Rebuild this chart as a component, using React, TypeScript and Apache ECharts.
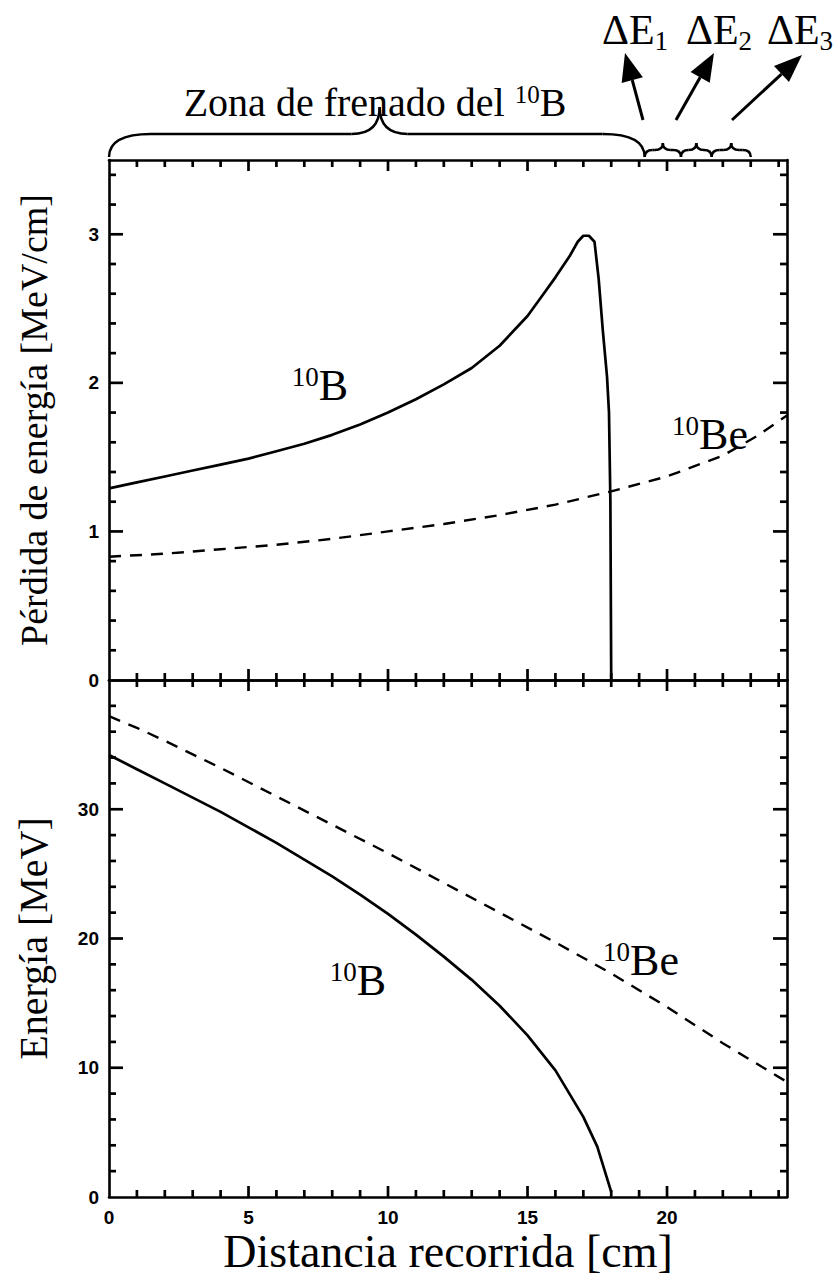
import React, { useEffect, useRef } from "react";
import * as echarts from "echarts";

// ---- data ----
const distanceTicks = [0, 5, 10, 15, 20];
const lossTicks = [0, 1, 2, 3];
const energyTicks = [0, 10, 20, 30];

// tick steps drawn along the frame (major every 5th)
const distanceMinorStep = 1; // cm
const lossMinorStep = 0.2; // MeV/cm
const energyMinorStep = 2; // MeV

// Energy loss of 10B [MeV/cm] vs distance [cm]
const b10LossX = [0, 1, 2, 3, 4, 5, 6, 7, 8, 9, 10, 11, 12, 13, 14, 15, 15.5, 16, 16.5, 16.8, 17.0, 17.2, 17.4, 17.55, 17.7, 17.85, 17.92, 17.97, 18.0];
const b10LossY = [1.29, 1.33, 1.37, 1.41, 1.45, 1.49, 1.54, 1.59, 1.65, 1.72, 1.8, 1.89, 1.99, 2.1, 2.25, 2.45, 2.58, 2.71, 2.85, 2.95, 2.99, 2.99, 2.95, 2.7, 2.35, 2.04, 1.8, 1.2, 0];

// Energy loss of 10Be [MeV/cm]
const be10LossX = [0, 2, 4, 6, 8, 10, 12, 14, 16, 18, 20, 22, 23.2, 24.3];
const be10LossY = [0.83, 0.85, 0.88, 0.91, 0.95, 1.0, 1.05, 1.11, 1.18, 1.27, 1.37, 1.51, 1.64, 1.78];

// Energy of 10B [MeV]
const b10EnergyX = [0, 1, 2, 3, 4, 5, 6, 7, 8, 9, 10, 11, 12, 13, 14, 15, 16, 17, 17.5, 18];
const b10EnergyY = [34.2, 33.1, 32.0, 30.9, 29.8, 28.6, 27.4, 26.1, 24.8, 23.4, 21.9, 20.3, 18.6, 16.8, 14.8, 12.5, 9.8, 6.2, 3.9, 0.4];

// Energy of 10Be [MeV]
const be10EnergyX = [0, 1, 2, 4, 6, 8, 10, 12, 14, 16, 18, 20, 22, 24.3];
const be10EnergyY = [37.2, 36.3, 35.3, 33.2, 31.0, 28.8, 26.6, 24.3, 22.0, 19.7, 17.3, 14.7, 11.9, 8.9];

// Annotation ranges along the distance axis [cm]
const stoppingZone = [0, 19.2];
const stoppingZoneTip = 9.7;
const deltaRanges = [
  [19.2, 20.5],
  [20.5, 21.6],
  [21.6, 23.0],
];
const deltaLabels = ["1", "2", "3"];

const X_MAX = 24.3;
const LOSS_MAX = 3.5;
const ENERGY_MAX = 40;

const serif = "'Liberation Serif', 'Times New Roman', serif";
const sans = "'Liberation Sans', Arial, sans-serif";

const zip = (xs: number[], ys: number[]) => xs.map((x, i) => [x, ys[i]]);
const black = { color: "#000", width: 2.6 };

function xAxisCfg(gridIndex: number, position: string, labels: boolean, name?: string) {
  return {
    type: "value",
    gridIndex,
    position,
    min: 0,
    max: X_MAX,
    interval: 5,
    name: name || "",
    nameLocation: "middle",
    nameGap: 34,
    nameTextStyle: { fontFamily: serif, fontSize: 46, lineHeight: 40, color: "#000" },
    axisLine: { show: true, onZero: false, lineStyle: black },
    axisTick: { show: false },
    splitLine: { show: false },
    axisLabel: {
      show: labels,
      margin: 11,
      lineHeight: 19,
      fontFamily: sans,
      fontWeight: "bold",
      fontSize: 19,
      color: "#000",
      formatter: (v: number) => (distanceTicks.includes(v) ? String(v) : ""),
    },
  };
}

function yAxisCfg(
  gridIndex: number,
  position: string,
  max: number,
  interval: number,
  ticks: number[],
  labels: boolean,
  name?: string,
  nameSize?: number
) {
  return {
    type: "value",
    gridIndex,
    position,
    min: 0,
    max,
    interval,
    name: name || "",
    nameLocation: "middle",
    nameGap: 56,
    nameTextStyle: { fontFamily: serif, fontSize: nameSize || 38, color: "#000" },
    axisLine: { show: true, onZero: false, lineStyle: black },
    axisTick: { show: false },
    splitLine: { show: false },
    axisLabel: {
      show: labels,
      margin: 10,
      fontFamily: sans,
      fontWeight: "bold",
      fontSize: 19,
      color: "#000",
      formatter: (v: number) => (ticks.includes(v) ? String(v) : ""),
    },
  };
}

function braceElements(x0: number, x1: number, xm: number, yb: number, yt: number, ytip: number, re: number, rm: number) {
  const ls = { stroke: "#000", lineWidth: 2.5, fill: "none" };
  return [
    { type: "bezierCurve", shape: { x1: x0, y1: yb, x2: x0 + re, y2: yt, cpx1: x0, cpy1: yt }, style: ls },
    { type: "line", shape: { x1: x0 + re, y1: yt, x2: xm - rm, y2: yt }, style: ls },
    { type: "bezierCurve", shape: { x1: xm - rm, y1: yt, x2: xm, y2: ytip, cpx1: xm, cpy1: yt }, style: ls },
    { type: "bezierCurve", shape: { x1: xm, y1: ytip, x2: xm + rm, y2: yt, cpx1: xm, cpy1: yt }, style: ls },
    { type: "line", shape: { x1: xm + rm, y1: yt, x2: x1 - re, y2: yt }, style: ls },
    { type: "bezierCurve", shape: { x1: x1 - re, y1: yt, x2: x1, y2: yb, cpx1: x1, cpy1: yt }, style: ls },
  ];
}

function arrowElements(tx: number, ty: number, hx: number, hy: number) {
  const dx = hx - tx;
  const dy = hy - ty;
  const len = Math.sqrt(dx * dx + dy * dy);
  const ux = dx / len;
  const uy = dy / len;
  const headLen = 28;
  const halfW = 11;
  const bx = hx - ux * headLen;
  const by = hy - uy * headLen;
  const px = -uy;
  const py = ux;
  return [
    { type: "line", shape: { x1: tx, y1: ty, x2: bx, y2: by }, style: { stroke: "#000", lineWidth: 3 } },
    {
      type: "polygon",
      shape: { points: [[hx, hy], [bx + px * halfW, by + py * halfW], [bx - px * halfW, by - py * halfW]] },
      style: { fill: "#000" },
    },
  ];
}

function isoLabel(x: number, y: number, mass: string, sym: string, size: number) {
  return {
    type: "text",
    x,
    y,
    z: 10,
    style: {
      text: `{sup|${mass}}{b|${sym}}`,
      align: "center",
      verticalAlign: "middle",
      rich: {
        sup: { fontFamily: serif, fontSize: Math.round(size * 0.62), fill: "#000", verticalAlign: "top" },
        b: { fontFamily: serif, fontSize: size, fill: "#000" },
      },
    },
  };
}

export default function App() {
  const ref = useRef<HTMLDivElement>(null);

  useEffect(() => {
    document.body.style.margin = "0";
    const chart = echarts.init(ref.current!, null, { renderer: "svg" });
    const option: any = {
      animation: false,
      backgroundColor: "#fff",
      grid: [
        { left: 109, top: 160, width: 678, height: 520 },
        { left: 109, top: 680, width: 678, height: 517 },
      ],
      xAxis: [
        xAxisCfg(0, "bottom", false),
        xAxisCfg(0, "top", false),
        xAxisCfg(1, "bottom", true, "Distancia recorrida [cm]"),
        xAxisCfg(1, "top", false),
      ],
      yAxis: [
        yAxisCfg(0, "left", LOSS_MAX, 1, lossTicks, true, "Pérdida de energía [MeV/cm]", 38),
        yAxisCfg(0, "right", LOSS_MAX, 1, lossTicks, false),
        yAxisCfg(1, "left", ENERGY_MAX, 10, energyTicks, true, "Energía [MeV]", 40),
        yAxisCfg(1, "right", ENERGY_MAX, 10, energyTicks, false),
      ],
      series: [
        { type: "line", xAxisIndex: 0, yAxisIndex: 0, data: zip(b10LossX, b10LossY), symbol: "none", lineStyle: { color: "#000", width: 2.7 } },
        { type: "line", xAxisIndex: 0, yAxisIndex: 0, data: zip(be10LossX, be10LossY), symbol: "none", lineStyle: { color: "#000", width: 2.4, type: [12, 9] } },
        { type: "line", xAxisIndex: 2, yAxisIndex: 2, data: zip(b10EnergyX, b10EnergyY), symbol: "none", lineStyle: { color: "#000", width: 2.7 } },
        { type: "line", xAxisIndex: 2, yAxisIndex: 2, data: zip(be10EnergyX, be10EnergyY), symbol: "none", lineStyle: { color: "#000", width: 2.4, type: [12, 9] } },
      ],
    };
    chart.setOption(option);

    const graphics: any[] = [];
    const tickStyle = { stroke: "#000", lineWidth: 2.7 };
    const addTick = (x1: number, y1: number, x2: number, y2: number) =>
      graphics.push({ type: "line", z: 5, shape: { x1, y1, x2, y2 }, style: tickStyle });

    // frame ticks, placed through the grids' own scales, pointing inward
    const panels = [
      { gridIndex: 0, yMax: LOSS_MAX, yStep: lossMinorStep },
      { gridIndex: 1, yMax: ENERGY_MAX, yStep: energyMinorStep },
    ];
    panels.forEach(({ gridIndex, yMax, yStep }) => {
      const toPx = (x: number, y: number) => chart.convertToPixel({ gridIndex }, [x, y]) as number[];
      const [left, bottom] = toPx(0, 0);
      const [right, top] = toPx(X_MAX, yMax);
      for (let i = 1; i * distanceMinorStep < X_MAX; i++) {
        const v = i * distanceMinorStep;
        const len = i % 5 === 0 ? 11 : 7;
        const xp = toPx(v, 0)[0];
        addTick(xp, bottom, xp, bottom - len);
        addTick(xp, top, xp, top + len);
      }
      for (let i = 1; i * yStep < yMax - 1e-9; i++) {
        const v = i * yStep;
        const len = i % 5 === 0 ? 14 : 7;
        const yp = toPx(0, v)[1];
        addTick(left, yp, left + len, yp);
        addTick(right, yp, right - len, yp);
      }
    });

    const px = (v: number) => chart.convertToPixel({ xAxisIndex: 0 }, v) as number;
    graphics.push(...braceElements(px(stoppingZone[0]), px(stoppingZone[1]), px(stoppingZoneTip), 157, 134, 107, 42, 28));
    deltaRanges.forEach(([a, b]) => {
      const xa = px(a);
      const xb = px(b);
      const r = Math.min(8, (xb - xa) / 4);
      graphics.push(...braceElements(xa, xb, (xa + xb) / 2, 157, 150, 143, r, r));
    });
    graphics.push(...arrowElements(643, 120, 625, 53));
    graphics.push(...arrowElements(676, 120, 714, 53));
    graphics.push(...arrowElements(732, 120, 802, 55));
    const deltaX = [635, 719, 800];
    deltaLabels.forEach((s, i) => {
      graphics.push({
        type: "text",
        x: deltaX[i],
        y: 30,
        style: {
          text: `{a|ΔE}{s|${s}}`,
          align: "center",
          verticalAlign: "middle",
          rich: {
            a: { fontFamily: serif, fontSize: 42, fill: "#000" },
            s: { fontFamily: serif, fontSize: 27, fill: "#000", verticalAlign: "bottom", padding: [22, 0, 0, 0] },
          },
        },
      });
    });
    graphics.push({
      type: "text",
      x: 375,
      y: 102,
      style: {
        text: "{t|Zona de frenado del }{sup|10}{t|B}",
        align: "center",
        verticalAlign: "middle",
        rich: {
          t: { fontFamily: serif, fontSize: 40, fill: "#000" },
          sup: { fontFamily: serif, fontSize: 25, fill: "#000", verticalAlign: "top" },
        },
      },
    });
    graphics.push(isoLabel(320, 385, "10", "B", 44));
    graphics.push(isoLabel(710, 434, "10", "Be", 44));
    graphics.push(isoLabel(358, 980, "10", "B", 44));
    graphics.push(isoLabel(641, 960, "10", "Be", 44));

    chart.setOption({ graphic: graphics });

    return () => chart.dispose();
  }, []);

  return <div ref={ref} style={{ position: "absolute", left: 0, top: 0, width: 838, height: 1283 }} />;
}
